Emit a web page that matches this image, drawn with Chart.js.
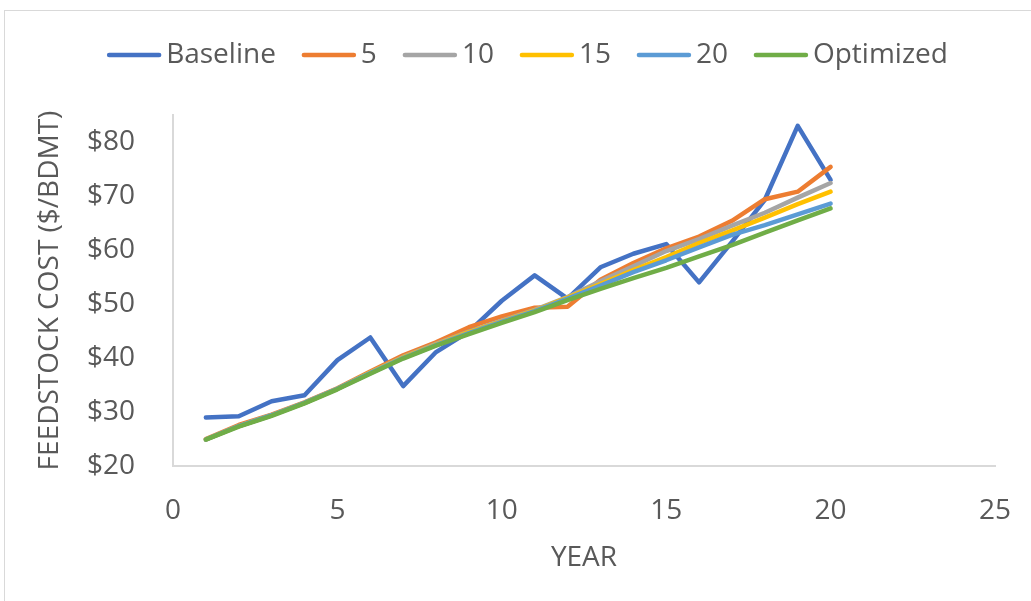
<!DOCTYPE html>
<html>
<head>
<meta charset="utf-8">
<script src="https://cdn.jsdelivr.net/npm/chart.js@4/dist/chart.umd.min.js"></script>
<style>
  html, body { margin: 0; padding: 0; background: #ffffff; }
  #wrap { position: relative; width: 1031px; height: 601px; }
</style>
</head>
<body>
<div id="wrap"><canvas id="c" width="1031" height="601"></canvas></div>
<script>
// Feedstock cost projections by year ($/BDMT)
const years = [1, 2, 3, 4, 5, 6, 7, 8, 9, 10, 11, 12, 13, 14, 15, 16, 17, 18, 19, 20];
const baseline  = [29.0, 29.2, 32.0, 33.1, 39.6, 43.8, 34.8, 41.1, 44.9, 50.6, 55.3, 51.0, 56.8, 59.3, 61.1, 54.0, 61.5, 69.3, 83.0, 73.0];
const scen5     = [25.0, 27.6, 29.5, 31.8, 34.4, 37.5, 40.5, 42.9, 45.7, 47.7, 49.3, 49.5, 54.5, 57.6, 60.3, 62.5, 65.4, 69.4, 70.8, 75.4];
const scen10    = [24.9, 27.4, 29.4, 31.7, 34.3, 37.3, 40.2, 42.6, 44.9, 46.9, 48.9, 51.3, 54.2, 57.0, 59.8, 62.0, 64.5, 66.9, 69.7, 72.4];
const scen15    = [24.9, 27.4, 29.4, 31.7, 34.3, 37.3, 40.1, 42.5, 44.8, 46.8, 48.8, 51.2, 53.7, 56.3, 58.7, 61.3, 63.6, 66.0, 68.5, 70.8];
const scen20    = [24.9, 27.4, 29.4, 31.7, 34.3, 37.2, 40.0, 42.4, 44.6, 46.7, 48.7, 51.0, 53.4, 55.9, 58.1, 60.5, 62.8, 64.6, 66.6, 68.6];
const optimized = [24.9, 27.3, 29.3, 31.6, 34.2, 37.1, 39.9, 42.3, 44.4, 46.5, 48.5, 50.7, 52.8, 54.8, 56.7, 58.8, 60.9, 63.2, 65.5, 67.7];

const seriesNames = ['Baseline', '5', '10', '15', '20', 'Optimized'];
const seriesData = [baseline, scen5, scen10, scen15, scen20, optimized];
const seriesColors = ['#4472C4', '#ED7D31', '#A5A5A5', '#FFC000', '#5B9BD5', '#70AD47'];

const xTickValues = [0, 5, 10, 15, 20, 25];
const yTickValues = [20, 30, 40, 50, 60, 70, 80];

const FONT = '"Open Sans", "DejaVu Sans", sans-serif';
const FONT_SIZE = 28;
const TEXT = '#595959';
const AXIS = '#d9d9d9';
const MARKER_LEN = 54;
const PAD_LEFT = 60;
const PLOT_LEFT = 173;

const datasets = seriesNames.map((name, i) => ({
  label: name,
  data: years.map((yr, k) => ({ x: yr, y: seriesData[i][k] })),
  borderColor: seriesColors[i],
  backgroundColor: seriesColors[i],
  borderWidth: 4.5,
  borderJoinStyle: 'round',
  borderCapStyle: 'round',
  pointRadius: 0,
  pointHoverRadius: 0,
  showLine: true,
  tension: 0,
  order: seriesNames.length - i   // later series are painted on top
}));

// Light frame round the chart area
const frame = {
  id: 'frame',
  beforeDraw(chart) {
    const ctx = chart.ctx;
    ctx.save();
    ctx.strokeStyle = AXIS;
    ctx.lineWidth = 1;
    ctx.strokeRect(4.5, 10.5, chart.width + 20, chart.height + 20);
    ctx.restore();
  }
};

// Extra room between the legend and the plot
const legendGap = {
  id: 'legendGap',
  beforeInit(chart) {
    const fit = chart.legend.fit;
    chart.legend.fit = function () {
      fit.call(this);
      this.height += 36;
    };
  }
};

// Line-style legend markers, placed in the legend's own item boxes
const legendLines = {
  id: 'legendLines',
  afterDraw(chart) {
    const lg = chart.legend;
    if (!lg || !lg.legendHitBoxes) return;
    const ctx = chart.ctx;
    ctx.save();
    ctx.lineCap = 'round';
    ctx.lineWidth = 4.5;
    lg.legendHitBoxes.forEach((hb, i) => {
      const item = lg.legendItems[i];
      const y = hb.top + hb.height / 2;
      ctx.strokeStyle = seriesColors[item.datasetIndex];
      ctx.beginPath();
      ctx.moveTo(hb.left + 2, y);
      ctx.lineTo(hb.left + MARKER_LEN - 2, y);
      ctx.stroke();
    });
    ctx.restore();
  }
};

new Chart(document.getElementById('c'), {
  type: 'scatter',
  data: { datasets },
  options: {
    responsive: false,
    animation: false,
    events: [],
    layout: { padding: { top: 15, left: PAD_LEFT, right: 36, bottom: 0 } },
    plugins: {
      tooltip: { enabled: false },
      legend: {
        position: 'top',
        labels: {
          font: { family: FONT, size: FONT_SIZE },
          color: TEXT,
          boxWidth: 45,
          boxHeight: 4,
          padding: 26,
          sort: (a, b) => a.datasetIndex - b.datasetIndex,
          generateLabels(chart) {
            const items = Chart.defaults.plugins.legend.labels.generateLabels(chart);
            return items.map(it => Object.assign(it, { lineWidth: 0, fillStyle: 'rgba(0,0,0,0)' }));
          }
        }
      }
    },
    scales: {
      x: {
        type: 'linear',
        min: 0,
        max: 25,
        // hidden tick marks keep the label gap below the axis
        grid: { display: false, drawTicks: true, tickLength: 28 },
        border: { display: true, color: AXIS, width: 2 },
        afterBuildTicks(scale) { scale.ticks = xTickValues.map(v => ({ value: v })); },
        afterFit(scale) { scale.height = 135; },
        ticks: {
          font: { family: FONT, size: FONT_SIZE },
          color: TEXT,
          padding: 0,
          maxRotation: 0,
          callback: v => String(v)
        },
        title: {
          display: true,
          text: 'YEAR',
          font: { family: FONT, size: FONT_SIZE },
          color: TEXT,
          padding: { top: 0, bottom: 26 }
        }
      },
      y: {
        type: 'linear',
        min: 20,
        max: 85,
        grid: { display: false, drawTicks: false },
        border: { display: true, color: AXIS, width: 2 },
        afterBuildTicks(scale) { scale.ticks = yTickValues.map(v => ({ value: v })); },
        afterFit(scale) { scale.width = PLOT_LEFT - PAD_LEFT; },
        ticks: {
          font: { family: FONT, size: FONT_SIZE },
          color: TEXT,
          padding: 38,
          callback: v => '$' + v
        },
        title: {
          display: true,
          text: 'FEEDSTOCK COST ($/BDMT)',
          font: { family: FONT, size: FONT_SIZE },
          color: TEXT,
          padding: { top: -27, bottom: 0 }
        }
      }
    }
  },
  plugins: [frame, legendGap, legendLines]
});
</script>
</body>
</html>
